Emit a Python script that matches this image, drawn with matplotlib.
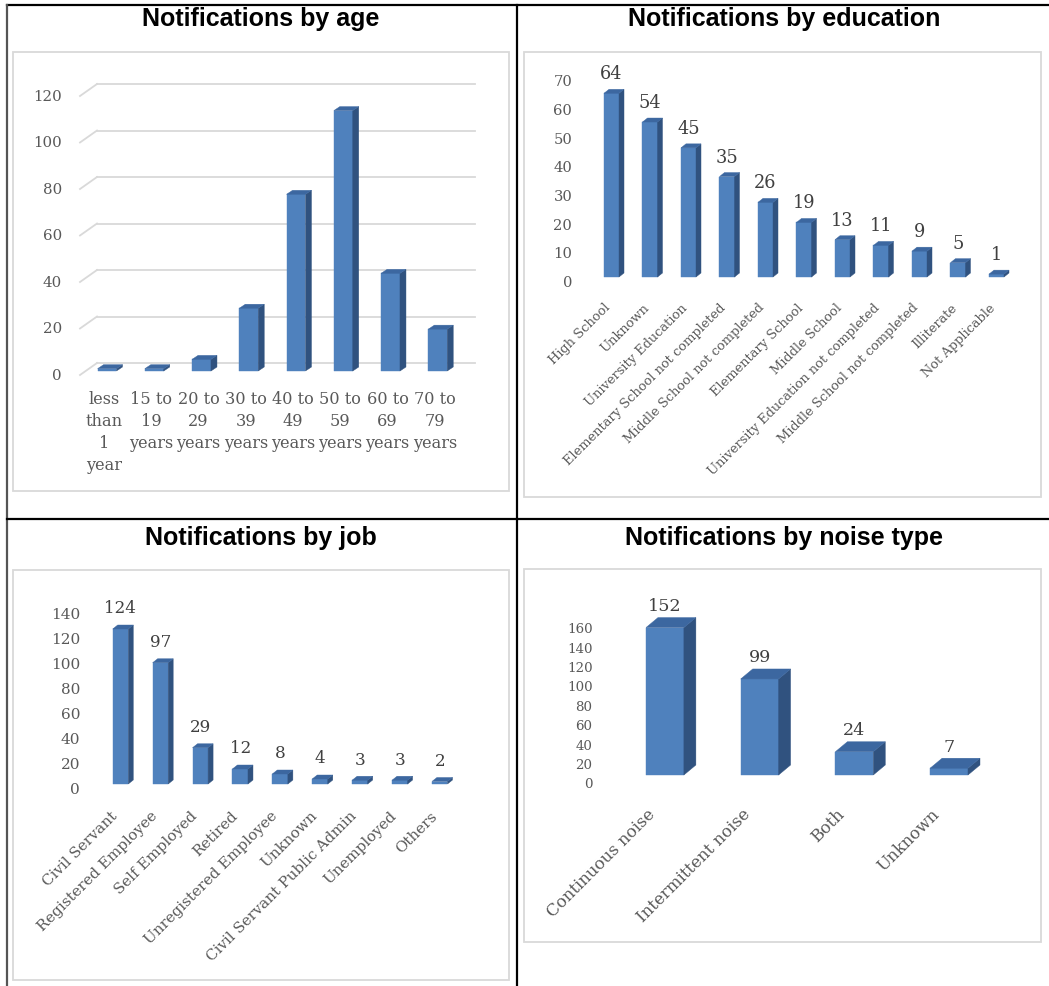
import numpy as np
import matplotlib
matplotlib.use("Agg")
import matplotlib.pyplot as plt
from matplotlib.patches import Polygon, Rectangle
from matplotlib.transforms import offset_copy

# ---- data ----
age_labels = ["less\nthan\n1\nyear", "15 to\n19\nyears", "20 to\n29\nyears", "30 to\n39\nyears",
              "40 to\n49\nyears", "50 to\n59\nyears", "60 to\n69\nyears", "70 to\n79\nyears"]
age_counts = [1, 1, 5, 27, 76, 112, 42, 18]
age_ticks = [0, 20, 40, 60, 80, 100, 120]

edu_labels = ["High School", "Unknown", "University Education", "Elementary School not completed",
              "Middle School not completed", "Elementary School", "Middle School",
              "University Education not completed", "Middle School not completed",
              "Illiterate", "Not Applicable"]
edu_counts = [64, 54, 45, 35, 26, 19, 13, 11, 9, 5, 1]
edu_ticks = [0, 10, 20, 30, 40, 50, 60, 70]

job_labels = ["Civil Servant", "Registered Employee", "Self Employed", "Retired",
              "Unregistered Employee", "Unknown", "Civil Servant Public Admin",
              "Unemployed", "Others"]
job_counts = [124, 97, 29, 12, 8, 4, 3, 3, 2]
job_ticks = [0, 20, 40, 60, 80, 100, 120, 140]

noise_labels = ["Continuous noise", "Intermittent noise", "Both", "Unknown"]
noise_counts = [152, 99, 24, 7]
noise_ticks = [0, 20, 40, 60, 80, 100, 120, 140, 160]

# ---- style ----
W, H = 1049, 987
FRONT, SIDE, TOP = "#4f81bd", "#30527f", "#3c67a0"
GRID = "#d9d9d9"
TICK_C, LAB_C, VAL_C = "#595959", "#595959", "#404040"
SERIF = "DejaVu Serif"
TITLE_FONT = "Liberation Sans"

fig = plt.figure(figsize=(W / 100, H / 100), dpi=100)

# table frame, titles and chart boxes (pixel coordinates)
bg = fig.add_axes([0, 0, 1, 1])
bg.set_xlim(0, W)
bg.set_ylim(H, 0)
bg.axis("off")
bg.plot([7, W], [6, 6], color="black", lw=1.6)
bg.plot([7, 7], [6, H], color="#555555", lw=1.6)
bg.plot([517, 517], [6, H], color="black", lw=1.6)
bg.plot([7, W], [520, 520], color="black", lw=1.6)
for x0, y0, x1, y1 in [(13, 53, 509, 492), (524, 53, 1041, 498),
                       (13, 571, 509, 981), (524, 570, 1041, 943)]:
    bg.add_patch(Rectangle((x0, y0), x1 - x0, y1 - y0, fill=False, ec="#d9d9d9", lw=1.3))
for x, y, t in [(261, 19, "Notifications by age"), (784, 19, "Notifications by education"),
                (261, 538, "Notifications by job"), (784, 538, "Notifications by noise type")]:
    bg.text(x, y, t, ha="center", va="center", fontsize=18, fontweight="bold",
            family=TITLE_FONT, color="black")


def chart_axes(left, right, bottom, top, n, ymax):
    ax = fig.add_axes([left / W, 1 - bottom / H, (right - left) / W, (bottom - top) / H])
    ax.set_xlim(-0.5, n - 0.5)
    ax.set_ylim(0, ymax)
    ax.axis("off")
    return ax


def px_scale(ax):
    # data units per pixel along x and y
    pos = ax.get_position()
    x0, x1 = ax.get_xlim()
    y0, y1 = ax.get_ylim()
    return (x1 - x0) / (pos.width * W), (y1 - y0) / (pos.height * H)


def shift(ax, dx, dy):
    return offset_copy(ax.transData, fig=fig, x=dx, y=dy, units="dots")


def bars3d(ax, counts, width, depth):
    kx, ky = px_scale(ax)
    ddx, ddy = depth[0] * kx, depth[1] * ky
    x = np.arange(len(counts))
    ax.bar(x, counts, width, color=FRONT, edgecolor=FRONT, lw=0.3, clip_on=False, zorder=3)
    for xi, v in zip(x, counts):
        l, r = xi - width / 2, xi + width / 2
        ax.add_patch(Polygon([(r, 0), (r + ddx, ddy), (r + ddx, v + ddy), (r, v)],
                             fc=SIDE, ec=SIDE, lw=0.3, clip_on=False, zorder=3))
        ax.add_patch(Polygon([(l, v), (r, v), (r + ddx, v + ddy), (l + ddx, v + ddy)],
                             fc=TOP, ec=TOP, lw=0.3, clip_on=False, zorder=3))


def yticks(ax, ticks, pad, drop, size):
    tr = shift(ax, -pad, -drop)
    for t in ticks:
        ax.text(-0.5, t, str(t), transform=tr, ha="right", va="center",
                fontsize=size, color=TICK_C, family=SERIF)


def value_labels(ax, counts, rise, size):
    tr = shift(ax, 0, rise)
    for i, v in enumerate(counts):
        ax.text(i, v, str(v), transform=tr, ha="center", va="center",
                fontsize=size, color=VAL_C, family=SERIF)


def slanted_labels(ax, labels, dx, dy, size):
    tr = shift(ax, dx, dy)
    for i, lab in enumerate(labels):
        ax.text(i, 0, lab, transform=tr, rotation=45, rotation_mode="anchor",
                ha="right", va="center", fontsize=size, color=LAB_C, family=SERIF)


# ---- age ----
ax = chart_axes(83.4, 461.4, 372, 93, len(age_counts), 120)
kx, ky = px_scale(ax)
for t in age_ticks:
    ax.plot([-0.5 - 3.4 * kx, -0.5 + 13.6 * kx], [t - 4 * ky, t + 8 * ky],
            color=GRID, lw=1.3, clip_on=False, zorder=1)
    ax.plot([-0.5 + 13.6 * kx, len(age_counts) - 0.5 + 13.6 * kx], [t + 8 * ky, t + 8 * ky],
            color=GRID, lw=1.3, clip_on=False, zorder=1)
bars3d(ax, age_counts, 0.40, (6, 4))
yticks(ax, age_ticks, 21.4, 4, 10.8)
tr = shift(ax, -3, -19)
for i, lab in enumerate(age_labels):
    ax.text(i, 0, lab, transform=tr, ha="center", va="top", multialignment="center",
            fontsize=11.6, color=LAB_C, family=SERIF, linespacing=1.38)

# ---- education ----
ax = chart_axes(592.25, 1015.75, 278, 77.1, len(edu_counts), 70)
bars3d(ax, edu_counts, 0.39, (5, 4))
yticks(ax, edu_ticks, 20, 5, 10.6)
value_labels(ax, edu_counts, 20, 12.8)
slanted_labels(ax, edu_labels, -3, -28, 9.4)

# ---- job ----
ax = chart_axes(100.55, 459.65, 785, 610, len(job_counts), 140)
bars3d(ax, job_counts, 0.39, (5, 4))
yticks(ax, job_ticks, 20.5, 5, 11)
value_labels(ax, job_counts, 21, 12.2)
slanted_labels(ax, job_labels, -5, -29, 10.8)

# ---- noise type ----
ax = chart_axes(617.6, 996.4, 776, 620.8, len(noise_counts), 160)
bars3d(ax, noise_counts, 0.40, (12, 10))
yticks(ax, noise_ticks, 25, 9, 9.6)
value_labels(ax, noise_counts, 22, 12.6)
slanted_labels(ax, noise_labels, -12, -36, 12)

fig.savefig("out.png", dpi=100)
